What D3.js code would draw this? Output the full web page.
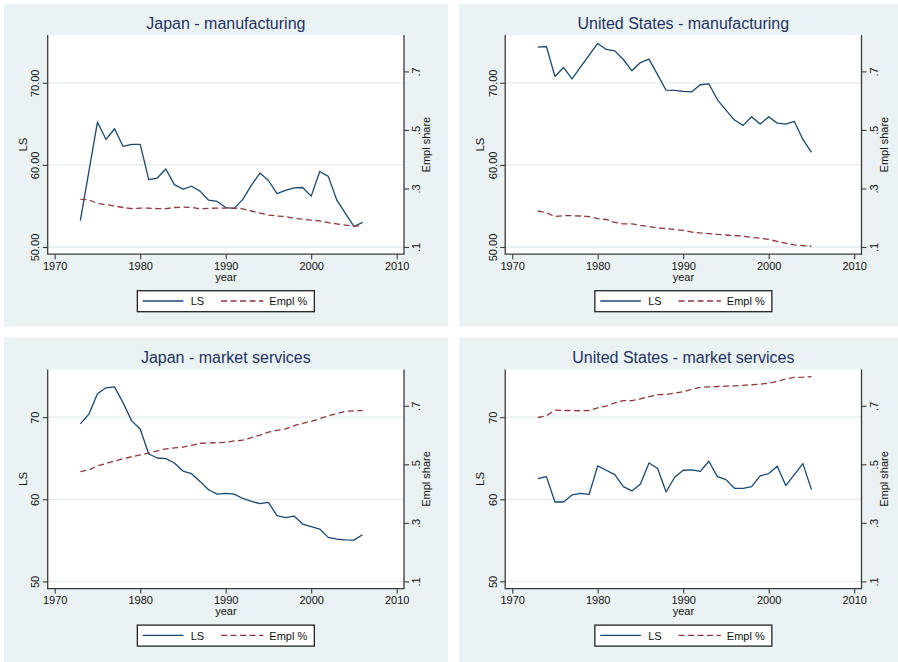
<!DOCTYPE html>
<html>
<head>
<meta charset="utf-8">
<script src="https://cdn.jsdelivr.net/npm/d3@7"></script>
<style>
  body { margin: 0; background: #fff; }
  svg { display: block; }
  text { font-family: "Liberation Sans", Arial, Helvetica, sans-serif; }
</style>
</head>
<body>
<svg id="chart" width="898" height="662"></svg>
<script>
// ---- data -------------------------------------------------------------
const yearsJP = [1973,1974,1975,1976,1977,1978,1979,1980,1981,1982,1983,1984,1985,1986,1987,1988,1989,1990,
                 1991,1992,1993,1994,1995,1996,1997,1998,1999,2000,2001,2002,2003,2004,2005,2006];
const yearsUS = [1973,1974,1975,1976,1977,1978,1979,1980,1981,1982,1983,1984,1985,1986,1987,1988,1989,1990,
                 1991,1992,1993,1994,1995,1996,1997,1998,1999,2000,2001,2002,2003,2004,2005];

const jpManLS   = [53.2,59.2,65.2,63.1,64.4,62.25,62.5,62.5,58.2,58.4,59.5,57.6,57.05,57.4,56.8,55.7,55.55,54.8,
                   54.7,55.8,57.5,59.0,58.1,56.5,56.9,57.2,57.25,56.2,59.2,58.6,55.7,54.1,52.5,53.0];
const jpManEmpl = [.263,.261,.249,.245,.240,.235,.231,.233,.233,.231,.231,.235,.236,.235,.231,.232,.233,.233,
                   .233,.230,.223,.216,.209,.206,.204,.198,.195,.192,.189,.183,.179,.175,.171,.173];

const usManLS   = [74.34,74.42,70.77,71.87,70.49,71.95,73.37,74.79,74.06,73.89,72.84,71.46,72.47,72.88,71.0,69.1,69.07,68.95,
                   68.9,69.76,69.88,67.93,66.67,65.46,64.81,65.86,64.97,65.86,65.09,64.97,65.29,63.10,61.52];
const usManEmpl = [.223,.217,.204,.207,.207,.206,.204,.197,.194,.184,.179,.179,.174,.170,.165,.163,.160,.157,
                   .151,.148,.146,.143,.141,.139,.137,.133,.130,.126,.119,.113,.107,.105,.102];

const jpSvcLS   = [69.19,70.37,72.85,73.58,73.70,71.75,69.55,68.57,65.52,65.03,64.95,64.42,63.44,63.12,62.18,61.16,60.63,60.72,
                   60.63,60.1,59.76,59.47,59.63,58.0,57.76,57.96,56.99,56.66,56.38,55.36,55.15,55.07,55.03,55.68];
const jpSvcEmpl = [.475,.481,.495,.503,.511,.519,.526,.532,.538,.546,.553,.556,.559,.565,.572,.573,.574,.575,
                   .580,.583,.591,.600,.610,.616,.621,.632,.640,.647,.656,.666,.673,.681,.683,.684];

const usSvcLS   = [62.52,62.76,59.67,59.67,60.53,60.73,60.61,64.07,63.54,63.01,61.54,61.02,61.87,64.43,63.78,60.89,62.68,63.54,
                   63.58,63.41,64.63,62.76,62.4,61.34,61.34,61.54,62.85,63.13,64.02,61.67,63.01,64.35,61.18];
const usSvcEmpl = [.660,.666,.685,.684,.684,.683,.684,.693,.699,.710,.718,.718,.724,.731,.738,.739,.743,.748,
                   .757,.763,.765,.766,.767,.768,.770,.772,.774,.777,.783,.792,.797,.798,.800];

const panelTitles = ["Japan - manufacturing", "United States - manufacturing",
                     "Japan - market services", "United States - market services"];
const yearTicks   = [1970, 1980, 1990, 2000, 2010];
const lsTicks     = [50, 60, 70];
const lsTickLabelsMan = ["50.00", "60.00", "70.00"];
const lsTickLabelsSvc = ["50", "60", "70"];
const emplTicks       = [.1, .3, .5, .7];
const emplTickLabels  = [".1", ".3", ".5", ".7"];
const legendLabels    = ["LS", "Empl %"];

// ---- panel assembly ---------------------------------------------------
const panels = [
  { title: panelTitles[0], years: yearsJP, ls: jpManLS, empl: jpManEmpl, lsLabels: lsTickLabelsMan, col: 0, row: 0 },
  { title: panelTitles[1], years: yearsUS, ls: usManLS, empl: usManEmpl, lsLabels: lsTickLabelsMan, col: 1, row: 0 },
  { title: panelTitles[2], years: yearsJP, ls: jpSvcLS, empl: jpSvcEmpl, lsLabels: lsTickLabelsSvc, col: 0, row: 1 },
  { title: panelTitles[3], years: yearsUS, ls: usSvcLS, empl: usSvcEmpl, lsLabels: lsTickLabelsSvc, col: 1, row: 1 }
];

// ---- style & geometry -------------------------------------------------
const BG = "#eaf2f3", GRID = "#e4ecee", AXIS = "#3a3a3a";
const NAVY = "#1a476f", MAROON = "#90353b", TITLE = "#1f3262";
const colDx = [0, 457.5], rowDy = [0, 334.4];
const bgX = [[4, 448], [1.5, 441]];          // panel background, local x extents
const bgY = [[4, 326.7], [2.9, 327.6]];      // panel background, local y extents
const P = { left: 47.7, right: 404, top: 35, bottom: 254.2 };

const x  = d3.scaleLinear().domain([1970, 2010]).range([54.7, 396.7]);
const yL = d3.scaleLinear().domain([50, 70]).range([247, 82.8]);
const yR = d3.scaleLinear().domain([.1, .7]).range([247, 71.4]);

const svg = d3.select("#chart");
svg.append("rect").attr("width", 898).attr("height", 662).attr("fill", "#fff");

panels.forEach(p => {
  const g = svg.append("g").attr("transform", `translate(${colDx[p.col]},${rowDy[p.row]})`);
  const bx = bgX[p.col], by = bgY[p.row];
  g.append("rect").attr("x", bx[0]).attr("y", by[0])
    .attr("width", bx[1] - bx[0]).attr("height", by[1] - by[0]).attr("fill", BG);

  // plot region
  g.append("rect").attr("x", P.left).attr("y", P.top)
    .attr("width", P.right - P.left).attr("height", P.bottom - P.top).attr("fill", "#fff");

  // title
  g.append("text").attr("x", (P.left + P.right) / 2).attr("y", 29)
    .attr("text-anchor", "middle").attr("font-size", 16).attr("fill", TITLE).text(p.title);

  // gridlines on the LS axis
  g.append("g").selectAll("line").data(lsTicks).join("line")
    .attr("x1", P.left).attr("x2", P.right)
    .attr("y1", d => yL(d)).attr("y2", d => yL(d))
    .attr("stroke", GRID).attr("stroke-width", 1.3);

  // series
  const ptsLS = p.years.map((yr, i) => ({ yr, v: p.ls[i] }));
  const ptsEm = p.years.map((yr, i) => ({ yr, v: p.empl[i] }));
  g.append("path").datum(ptsLS)
    .attr("d", d3.line().x(d => x(d.yr)).y(d => yL(d.v)))
    .attr("fill", "none").attr("stroke", NAVY).attr("stroke-width", 1.3).attr("stroke-linejoin", "round");
  g.append("path").datum(ptsEm)
    .attr("d", d3.line().x(d => x(d.yr)).y(d => yR(d.v)))
    .attr("fill", "none").attr("stroke", MAROON).attr("stroke-width", 1.3)
    .attr("stroke-dasharray", "6,3.5");

  // axes
  const ax = g.append("g").attr("transform", `translate(0,${P.bottom})`)
    .call(d3.axisBottom(x).tickValues(yearTicks).tickFormat(d3.format("d")).tickSize(5).tickSizeOuter(0));
  ax.select(".domain").remove();
  ax.selectAll("text").attr("y", 8).attr("dy", "0.71em").attr("font-size", 11).attr("fill", "#111");

  const al = g.append("g").attr("transform", `translate(${P.left},0)`)
    .call(d3.axisLeft(yL).tickValues(lsTicks).tickFormat((d, i) => p.lsLabels[i]).tickSize(5).tickSizeOuter(0));
  al.select(".domain").remove();
  al.selectAll("text").attr("transform", "rotate(-90)").attr("x", 0).attr("y", -8.4).attr("dy", 0)
    .attr("text-anchor", "middle").attr("font-size", 11).attr("fill", "#111");

  const ar = g.append("g").attr("transform", `translate(${P.right},0)`)
    .call(d3.axisRight(yR).tickValues(emplTicks).tickFormat((d, i) => emplTickLabels[i]).tickSize(5).tickSizeOuter(0));
  ar.select(".domain").remove();
  ar.selectAll("text").attr("transform", "rotate(-90)").attr("x", 0).attr("y", 16).attr("dy", 0)
    .attr("text-anchor", "middle").attr("font-size", 11).attr("fill", "#111");

  [ax, al, ar].forEach(a => a.selectAll(".tick line").attr("stroke", AXIS).attr("stroke-width", 1.1));

  // spines
  g.append("line").attr("x1", P.left).attr("x2", P.left).attr("y1", P.top).attr("y2", P.bottom + 0.6)
    .attr("stroke", AXIS).attr("stroke-width", 1.3);
  g.append("line").attr("x1", P.right).attr("x2", P.right).attr("y1", P.top).attr("y2", P.bottom + 0.6)
    .attr("stroke", AXIS).attr("stroke-width", 1.3);
  g.append("line").attr("x1", P.left).attr("x2", P.right).attr("y1", P.bottom).attr("y2", P.bottom)
    .attr("stroke", AXIS).attr("stroke-width", 1.3);

  // axis titles
  const cx = (P.left + P.right) / 2, cy = (P.top + P.bottom) / 2;
  g.append("text").attr("x", cx).attr("y", 281).attr("text-anchor", "middle")
    .attr("font-size", 11).attr("fill", "#111").text("year");
  g.append("text").attr("transform", `translate(26.6,${cy}) rotate(-90)`).attr("text-anchor", "middle")
    .attr("font-size", 11.3).attr("fill", "#111").text("LS");
  g.append("text").attr("transform", `translate(430,${cy}) rotate(-90)`).attr("text-anchor", "middle")
    .attr("font-size", 11).attr("fill", "#111").text("Empl share");

  // legend
  const lg = g.append("g").attr("transform", `translate(${cx - 88.5},290.7)`);
  lg.append("rect").attr("width", 177).attr("height", 21).attr("fill", "#fff")
    .attr("stroke", "#222").attr("stroke-width", 1.3);
  lg.append("line").attr("x1", 5.4).attr("x2", 46).attr("y1", 10.3).attr("y2", 10.3)
    .attr("stroke", NAVY).attr("stroke-width", 1.3);
  lg.append("text").attr("x", 53.4).attr("y", 14.6).attr("font-size", 11).attr("fill", "#111").text(legendLabels[0]);
  lg.append("line").attr("x1", 83.7).attr("x2", 126).attr("y1", 10.3).attr("y2", 10.3)
    .attr("stroke", MAROON).attr("stroke-width", 1.3).attr("stroke-dasharray", "6,3.5");
  lg.append("text").attr("x", 132).attr("y", 14.6).attr("font-size", 11).attr("fill", "#111").text(legendLabels[1]);
});
</script>
</body>
</html>
